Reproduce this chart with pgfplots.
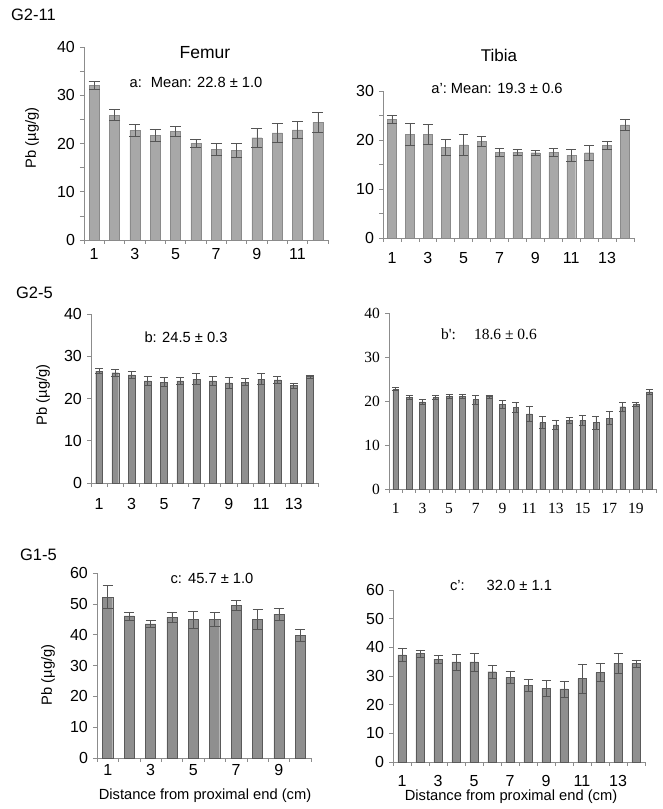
\documentclass[border=0pt]{standalone}
\usepackage{pgfplots}
\pgfplotsset{compat=1.18}
\usepackage{fontspec}
\setmainfont{Liberation Sans}
\newfontfamily\timesf{Liberation Serif}
\definecolor{barA}{HTML}{A8A8A8}
\definecolor{barAedge}{HTML}{8A8A8A}
\definecolor{barB}{HTML}{8F8F8F}
\definecolor{barBedge}{HTML}{5A5A5A}
\definecolor{axc}{HTML}{8C8C8C}
\definecolor{errc}{HTML}{555555}
\pgfplotsset{
  panel/.style={
    scale only axis, anchor=south west,
    axis x line*=bottom, axis y line*=left,
    axis line style={-, draw=axc, line width=0.7pt},
    every tick/.style={draw=axc, line width=0.6pt},
    tick align=outside,
    major tick length=4pt, minor tick length=4pt,
    major x tick style={draw=none},
    ymin=0, xmin=0.5,
    ybar, bar width=0.5, bar shift=0pt,
    /pgf/number format/assume math mode=true,
    ticklabel style={font=\fontsize{16}{18}\selectfont},
    clip=false,
  },
  errs/.style={
    error bars/.cd, y dir=both, y explicit,
    error bar style={draw=errc, line width=0.6pt},
    error mark options={rotate=90, mark size=#1, draw=errc, line width=0.6pt},
  },
}
\begin{document}
\begin{tikzpicture}[x=1pt,y=1pt]
\path[use as bounding box] (0,0) rectangle (662,809);
\fontsize{14.7}{17}\selectfont
% ---------- a: Femur G2-11
\begin{axis}[panel, at={(84pt,569pt)}, width=244pt, height=193pt,
  xmax=12.5, ymax=40, ytick={0,10,20,30,40}, minor ytick={5,15,25,35},
  xtick={1,3,5,7,9,11}, minor xtick={0.5,1.5,...,12.5},
  xticklabel style={yshift=1pt}]
\addplot[fill=barA, draw=barAedge, errs=5.5pt] coordinates {
(1,32.0) +- (0,0.8)
(2,25.9) +- (0,1.1)
(3,22.7) +- (0,1.2)
(4,21.7) +- (0,1.2)
(5,22.5) +- (0,1.1)
(6,20.1) +- (0,0.8)
(7,18.8) +- (0,1.2)
(8,18.6) +- (0,1.4)
(9,21.2) +- (0,1.9)
(10,22.2) +- (0,1.9)
(11,22.8) +- (0,1.7)
(12,24.4) +- (0,2.1)
};
\end{axis}
% ---------- a': Tibia G2-11
\begin{axis}[panel, at={(383pt,571pt)}, width=251pt, height=147pt,
  xmax=14.5, ymax=30, ytick={0,10,20,30}, minor ytick={5,15,25},
  xtick={1,3,5,7,9,11,13}, minor xtick={0.5,1.5,...,14.5},
  xticklabel style={yshift=-5pt}]
\addplot[fill=barA, draw=barAedge, errs=4.8pt] coordinates {
(1,24.2) +- (0,0.8)
(2,21.2) +- (0,2.2)
(3,21.2) +- (0,2.0)
(4,18.5) +- (0,1.6)
(5,19.0) +- (0,2.2)
(6,19.7) +- (0,1.0)
(7,17.5) +- (0,0.9)
(8,17.5) +- (0,0.7)
(9,17.4) +- (0,0.5)
(10,17.5) +- (0,0.8)
(11,16.9) +- (0,1.2)
(12,17.4) +- (0,1.5)
(13,18.9) +- (0,0.9)
(14,23.1) +- (0,1.2)
};
\end{axis}
% ---------- b: Femur G2-5
\begin{axis}[panel, at={(91pt,326pt)}, width=227pt, height=169pt,
  xmax=14.5, ymax=40, ytick={0,10,20,30,40}, bar width=0.42,
  xtick={1,3,5,7,9,11,13}, minor xtick={0.5,1.5,...,14.5},
  xticklabel style={yshift=-6pt}]
\addplot[fill=barB, draw=barBedge, errs=4pt] coordinates {
(1,26.5) +- (0,0.6)
(2,26.1) +- (0,0.8)
(3,25.6) +- (0,0.9)
(4,24.2) +- (0,1.1)
(5,23.9) +- (0,1.1)
(6,24.2) +- (0,0.9)
(7,24.6) +- (0,1.3)
(8,24.2) +- (0,1.1)
(9,23.7) +- (0,1.3)
(10,23.9) +- (0,0.8)
(11,24.6) +- (0,1.3)
(12,24.4) +- (0,0.8)
(13,23.1) +- (0,0.6)
(14,25.2) +- (0,0.4)
};
\end{axis}
% ---------- b': Tibia G2-5
\begin{axis}[panel, at={(389pt,320pt)}, width=267pt, height=176pt,
  xmax=20.5, ymax=40, ytick={0,10,20,30,40}, bar width=0.42,
  xtick={1,3,5,7,9,11,13,15,17,19}, minor xtick={0.5,1.5,...,20.5},
  ticklabel style={font=\timesf\fontsize{15.5}{17}\selectfont},
  xticklabel style={yshift=-5pt}]
\addplot[fill=barB, draw=barBedge, errs=3.5pt] coordinates {
(1,22.7) +- (0,0.3)
(2,20.8) +- (0,0.4)
(3,19.8) +- (0,0.5)
(4,20.8) +- (0,0.4)
(5,21.0) +- (0,0.5)
(6,21.1) +- (0,0.5)
(7,20.3) +- (0,1.0)
(8,21.0) +- (0,0.4)
(9,19.3) +- (0,0.9)
(10,18.6) +- (0,1.1)
(11,17.1) +- (0,1.8)
(12,15.1) +- (0,1.4)
(13,14.6) +- (0,1.1)
(14,15.6) +- (0,0.7)
(15,15.6) +- (0,1.2)
(16,15.1) +- (0,1.5)
(17,16.1) +- (0,1.5)
(18,18.7) +- (0,1.0)
(19,19.2) +- (0,0.4)
(20,22.1) +- (0,0.6)
};
\end{axis}
% ---------- c: Femur G1-5
\begin{axis}[panel, at={(97pt,51pt)}, width=214pt, height=185pt,
  xmax=10.5, ymax=60, ytick={0,10,...,60}, bar width=0.47,
  xtick={1,3,5,7,9}, minor xtick={0.5,1.5,...,10.5},
  xticklabel style={yshift=3pt}]
\addplot[fill=barB, draw=barBedge, errs=5pt] coordinates {
(1,52.2) +- (0,3.7)
(2,46.1) +- (0,1.3)
(3,43.5) +- (0,1.0)
(4,45.7) +- (0,1.6)
(5,44.9) +- (0,2.7)
(6,44.9) +- (0,2.2)
(7,49.6) +- (0,1.6)
(8,45.0) +- (0,3.3)
(9,46.7) +- (0,1.9)
(10,39.8) +- (0,2.1)
};
\end{axis}
% ---------- c': Tibia G1-5
\begin{axis}[panel, at={(393pt,47pt)}, width=252pt, height=172pt,
  xmax=14.5, ymax=60, ytick={0,10,...,60}, bar width=0.46,
  xtick={1,3,5,7,9,11,13}, minor xtick={0.5,1.5,...,14.5},
  xticklabel style={yshift=-4pt}]
\addplot[fill=barB, draw=barBedge, errs=4.5pt] coordinates {
(1,37.4) +- (0,2.4)
(2,37.8) +- (0,1.3)
(3,35.9) +- (0,1.3)
(4,34.9) +- (0,2.8)
(5,34.9) +- (0,3.1)
(6,31.5) +- (0,2.3)
(7,29.5) +- (0,2.2)
(8,26.7) +- (0,2.0)
(9,25.8) +- (0,2.8)
(10,25.5) +- (0,2.8)
(11,29.1) +- (0,5.1)
(12,31.2) +- (0,3.2)
(13,34.5) +- (0,3.5)
(14,34.3) +- (0,1.3)
};
\end{axis}
% ---------- texts
\node[anchor=west] at (6,794) {\fontsize{16.5}{19}\selectfont G2-11};
\node at (205,756) {\fontsize{17.5}{20}\selectfont Femur};
\node at (196,727) {a:\hspace{9pt}Mean: 22.8 ± 1.0};
\node at (499,754) {\fontsize{17}{20}\selectfont Tibia};
\node at (497,721) {a':\hspace{4pt}Mean: 19.3 ± 0.6};
\node[rotate=90] at (32,671) {Pb (µg/g)};
\node[anchor=west] at (11,516) {\fontsize{16.5}{19}\selectfont G2-5};
\node at (186,472) {b: 24.5 ± 0.3};
\node[rotate=90] at (43,414) {Pb (µg/g)};
\node at (489,475) {\timesf\fontsize{15.5}{17}\selectfont b':\hspace{18pt}18.6 ± 0.6};
\node[anchor=west] at (15,254) {\fontsize{16.5}{19}\selectfont G1-5};
\node at (212,231) {c:\hspace{6pt}45.7 ± 1.0};
\node[rotate=90] at (48,134) {Pb (µg/g)};
\node at (205,13) {Distance from proximal end (cm)};
\node at (501,224) {c':\hspace{22pt}32.0 ± 1.1};
\node at (511,12) {Distance from proximal end (cm)};
\end{tikzpicture}
\end{document}
